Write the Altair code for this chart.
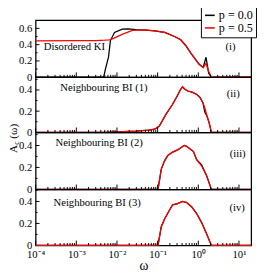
import altair as alt
import pandas as pd

P0, P5 = "p = 0.0", "p = 0.5"

# ---- panel (i) Disordered KI ----
w1_red = [1e-4, 1e-3, 3e-3, 5e-3, 6.6e-3, 8.5e-3, 0.0138, 0.024, 0.05, 0.085, 0.15, 0.26, 0.37,
          0.49, 0.65, 0.85, 1.05, 1.32, 1.55, 1.74, 2.1, 20]
a1_red = [0.445, 0.448, 0.45, 0.455, 0.46, 0.48, 0.53, 0.575, 0.58, 0.57, 0.55, 0.50, 0.46,
          0.39, 0.30, 0.22, 0.16, 0.12, 0.17, 0.09, 0.0, 0.0]
w1_blk = [1e-4, 4.7e-3, 5.2e-3, 6.2e-3, 6.9e-3, 8.7e-3, 0.0135, 0.019, 0.029, 0.05, 0.085, 0.15,
          0.26, 0.37, 0.49, 0.65, 0.85, 1.05, 1.32, 1.55, 1.8, 2.1, 20]
a1_blk = [0.0, 0.0, 0.1, 0.25, 0.45, 0.55, 0.59, 0.595, 0.585, 0.578, 0.57, 0.55,
          0.50, 0.46, 0.39, 0.30, 0.22, 0.16, 0.12, 0.245, 0.05, 0.0, 0.0]

# ---- panel (ii) Neighbouring BI (1) ----
w2 = [1e-4, 5e-3, 0.01, 0.03, 0.06, 0.085, 0.11, 0.16, 0.23, 0.31, 0.36, 0.41, 0.46, 0.55,
      0.7, 0.9, 1.1, 1.3, 1.45, 1.65, 1.85, 2.1, 20]
a2_red = [0, 0, 0.004, 0.012, 0.02, 0.03, 0.06, 0.17, 0.26, 0.35, 0.40, 0.43, 0.41, 0.39,
          0.38, 0.36, 0.33, 0.28, 0.23, 0.15, 0.09, 0, 0]
a2_blk = [0, 0, 0.004, 0.012, 0.02, 0.03, 0.06, 0.17, 0.26, 0.35, 0.40, 0.43, 0.41, 0.39,
          0.38, 0.36, 0.33, 0.28, 0.19, 0.15, 0.09, 0, 0]

# ---- panel (iii) Neighbouring BI (2) ----
w3 = [1e-4, 0.102, 0.123, 0.148, 0.178, 0.234, 0.31, 0.37, 0.45, 0.5, 0.575, 0.76, 0.91,
      1.2, 1.58, 2.1, 20]
a3_red = [0, 0, 0.185, 0.26, 0.31, 0.34, 0.36, 0.38, 0.40, 0.395, 0.38, 0.345, 0.27,
          0.215, 0.13, 0, 0]
a3_blk = [0, 0, 0.185, 0.26, 0.31, 0.34, 0.36, 0.38, 0.40, 0.395, 0.38, 0.345, 0.27,
          0.225, 0.13, 0, 0]

# ---- panel (iv) Neighbouring BI (3) ----
w4 = [1e-4, 0.102, 0.123, 0.148, 0.195, 0.234, 0.31, 0.41, 0.52, 0.69, 0.91, 1.2, 1.58, 2.1, 20]
a4_red = [0, 0, 0.17, 0.24, 0.32, 0.37, 0.38, 0.40, 0.39, 0.35, 0.29, 0.21, 0.11, 0, 0]
a4_blk = [0, 0, 0.17, 0.24, 0.32, 0.37, 0.38, 0.40, 0.39, 0.35, 0.29, 0.21, 0.11, 0, 0]

x_major = [1e-4, 1e-3, 1e-2, 1e-1, 1, 10]
x_minor = [m * 10.0 ** k for k in range(-4, 2) for m in range(2, 10) if m * 10.0 ** k < 20]
x_labels = ["10⁻⁴", "10⁻³", "10⁻²", "10⁻¹", "10⁰", "10¹"]

FONT = "Liberation Serif"
XDOM = [1e-4, 20]
W = 223

color = alt.Color(
    "p:N",
    scale=alt.Scale(domain=[P0, P5], range=["#000000", "#ff0000"]),
    legend=alt.Legend(
        title=None, orient="none", legendX=171, legendY=-14.3,
        strokeColor="black", fillColor="white", padding=3, cornerRadius=0,
        labelFont=FONT, labelFontSize=12.5, labelColor="black", symbolType="stroke",
        symbolSize=100, symbolStrokeWidth=1.6, rowPadding=0, labelOffset=3,
    ),
)


def txt(label, x, y, align="left", size=11):
    return alt.Chart(pd.DataFrame({"s": [label]})).mark_text(
        align=align, baseline="middle", font=FONT, fontSize=size, color="black"
    ).encode(x=alt.value(x), y=alt.value(y), text="s:N")


def panel(wr, ar, wb, ab, ymax, h, yvals, yminor, name, tag, name_xy, tag_xy, bottom=False, extra=()):
    xscale = alt.Scale(type="log", domain=XDOM, nice=False)
    if bottom:
        expr = "[" + ",".join("'%s'" % s for s in x_labels) + "][round(log(datum.value)/LN10)+4]"
        xaxis = alt.Axis(values=x_major, labelExpr=expr, ticks=False, domain=False, grid=False,
                         labelFontSize=11, labelPadding=4, labelFlush=False, labelOverlap=False,
                         title="ω", titleFontSize=14, titlePadding=-1.3, titleFont=FONT,
                         labelFont=FONT, labelColor="black", titleColor="black",
                         titleFontWeight="normal")
    else:
        xaxis = None
    yaxis = alt.Axis(values=yvals, labelExpr="datum.value == 0 ? '0' : format(datum.value, '.1f')",
                     ticks=False, domain=False, grid=False, labelPadding=4, title=None,
                     labelFontSize=11, labelFont=FONT, labelColor="black", labelOverlap=False)
    X = alt.X("omega:Q", scale=xscale, axis=xaxis)
    Y = alt.Y("A:Q", scale=alt.Scale(domain=[0, ymax], nice=False, zero=True), axis=yaxis)

    blk = alt.Chart(pd.DataFrame({"omega": wb, "A": ab, "p": P0})).mark_line(
        strokeWidth=1.3).encode(x=X, y=Y, color=color)
    red = alt.Chart(pd.DataFrame({"omega": wr, "A": ar, "p": P5})).mark_line(
        strokeWidth=1.3).encode(x=X, y=Y, color=color)
    tmaj = alt.Chart(pd.DataFrame({"omega": x_major})).mark_rule(color="black", strokeWidth=1).encode(
        x=X, y=alt.value(h), y2=alt.value(h - 5))
    tmin = alt.Chart(pd.DataFrame({"omega": x_minor})).mark_rule(color="black", strokeWidth=1).encode(
        x=X, y=alt.value(h), y2=alt.value(h - 2.5))
    ymaj = alt.Chart(pd.DataFrame({"A": yvals[1:]})).mark_rule(color="black", strokeWidth=1).encode(
        y=Y, x=alt.value(0), x2=alt.value(4))
    ymin = alt.Chart(pd.DataFrame({"A": yminor})).mark_rule(color="black", strokeWidth=1).encode(
        y=Y, x=alt.value(0), x2=alt.value(2))
    layers = [blk, red, tmaj, tmin, ymaj, ymin,
              txt(name, name_xy[0], name_xy[1]),
              txt(tag, tag_xy[0], tag_xy[1], align="center")]
    layers += list(extra)
    return alt.layer(*layers).properties(width=W, height=h)


ytitle = [
    alt.Chart(pd.DataFrame({"s": ["A"]})).mark_text(
        align="left", baseline="alphabetic", angle=270, font=FONT, fontSize=11.5, color="black"
    ).encode(x=alt.value(-19.3), y=alt.value(21.5), text="s:N"),
    alt.Chart(pd.DataFrame({"s": ["c"]})).mark_text(
        align="left", baseline="alphabetic", angle=270, font=FONT, fontSize=8, color="black"
    ).encode(x=alt.value(-17.5), y=alt.value(12.8), text="s:N"),
    alt.Chart(pd.DataFrame({"s": ["(ω)"]})).mark_text(
        align="left", baseline="alphabetic", angle=270, font=FONT, fontSize=11.5, color="black"
    ).encode(x=alt.value(-19.3), y=alt.value(6.5), text="s:N"),
]

p1 = panel(w1_red, a1_red, w1_blk, a1_blk, 0.7, 59, [0, 0.2, 0.4, 0.6], [0.1, 0.3, 0.5],
           "Disordered KI", "(i)", (8.5, 27.4), (201.5, 27.4))
p2 = panel(w2, a2_red, w2, a2_blk, 0.52, 57, [0, 0.2, 0.4], [0.1, 0.3, 0.5],
           "Neighbouring BI (1)", "(ii)", (25.5, 11.7), (204.5, 17.4))
p3 = panel(w3, a3_red, w3, a3_blk, 0.52, 59, [0, 0.2, 0.4], [0.1, 0.3, 0.5],
           "Neighbouring BI (2)", "(iii)", (20.5, 11.3), (209, 23), extra=ytitle)
p4 = panel(w4, a4_red, w4, a4_blk, 0.51, 58, [0, 0.2, 0.4], [0.1, 0.3, 0.5],
           "Neighbouring BI (3)", "(iv)", (18.5, 14), (208.5, 19), bottom=True)

chart = (
    alt.vconcat(p1, p2, p3, p4, spacing=0, bounds="flush")
    .resolve_scale(y="independent")
    .configure(padding={"left": -0.4, "top": -7, "right": 0, "bottom": -1.5}, font=FONT)
    .configure_view(stroke="black", strokeWidth=1.3)
)

chart.save("out.html", embed_options={"renderer": "svg", "actions": False})
